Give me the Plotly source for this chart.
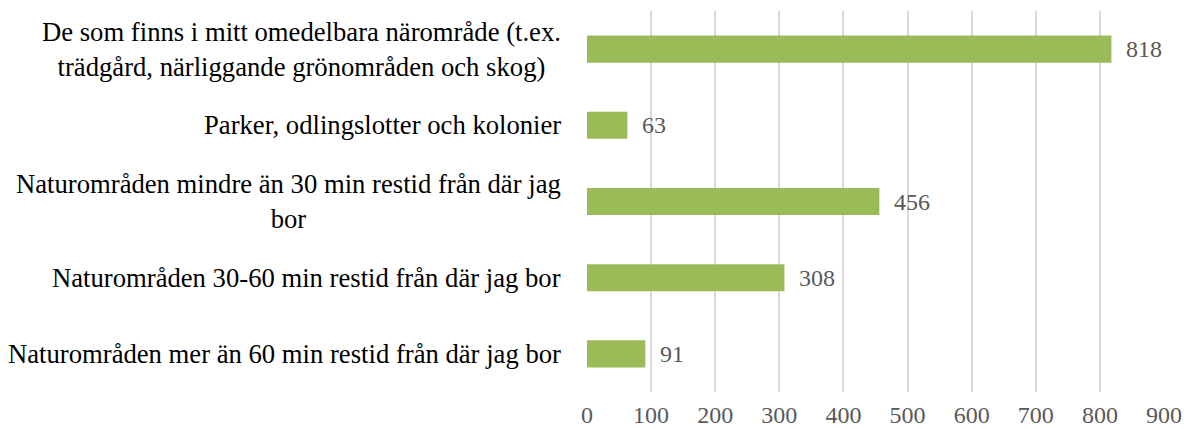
import plotly.graph_objects as go

categories = [
    "De som finns i mitt omedelbara närområde (t.ex.<br>trädgård, närliggande grönområden och skog)",
    "Parker, odlingslotter och kolonier",
    "Naturområden mindre än 30 min restid från där jag<br>bor",
    "Naturområden 30-60 min restid från där jag bor",
    "Naturområden mer än 60 min restid från där jag bor",
]
values = [818, 63, 456, 308, 91]
tick_vals = [0, 100, 200, 300, 400, 500, 600, 700, 800, 900]

FONT = "Liberation Serif, Times New Roman, serif"
n = len(values)
ypos = list(range(n))

ML, MR, MT, MB = 587, 20, 11, 37

fig = go.Figure(go.Bar(
    x=values, y=ypos, orientation="h",
    marker=dict(color="#9BBB59", line=dict(width=0)),
    width=0.355,
    hoverinfo="x",
))

annotations = []
for i, (c, v) in enumerate(zip(categories, values)):
    annotations.append(dict(
        x=v, y=i, xref="x", yref="y", text=str(v), showarrow=False,
        xanchor="left", xshift=13, font=dict(family=FONT, size=24, color="#595959"),
    ))
    annotations.append(dict(
        x=0, y=i, xref="paper", yref="y", xanchor="right", xshift=-24,
        align="center", text=c, showarrow=False,
        font=dict(family=FONT, size=26.67, color="#000000"),
    ))

fig.update_layout(
    autosize=True,
    margin=dict(l=ML, r=MR, t=MT, b=MB, autoexpand=False),
    paper_bgcolor="white", plot_bgcolor="white",
    showlegend=False,
    annotations=annotations,
    xaxis=dict(
        range=[0, 900], tickvals=tick_vals, showgrid=True, gridcolor="#D9D9D9", gridwidth=1.5,
        zeroline=False, showline=False, ticks="", ticklabelstandoff=6, automargin=False,
        tickfont=dict(family=FONT, size=24, color="#595959"),
    ),
    yaxis=dict(
        range=[n - 0.5, -0.5], showticklabels=False, showgrid=False, zeroline=False,
        showline=False, ticks="", automargin=False,
    ),
)

fig.write_html(
    "out.html",
    config={"displayModeBar": False, "responsive": True},
    default_width="100vw",
    default_height="100vh",
    post_script=(
        "document.documentElement.style.overflow='hidden';"
        "document.body.style.margin='0';document.body.style.overflow='hidden';"
        "Plotly.Plots.resize(document.getElementById('{plot_id}'));"
    ),
)
